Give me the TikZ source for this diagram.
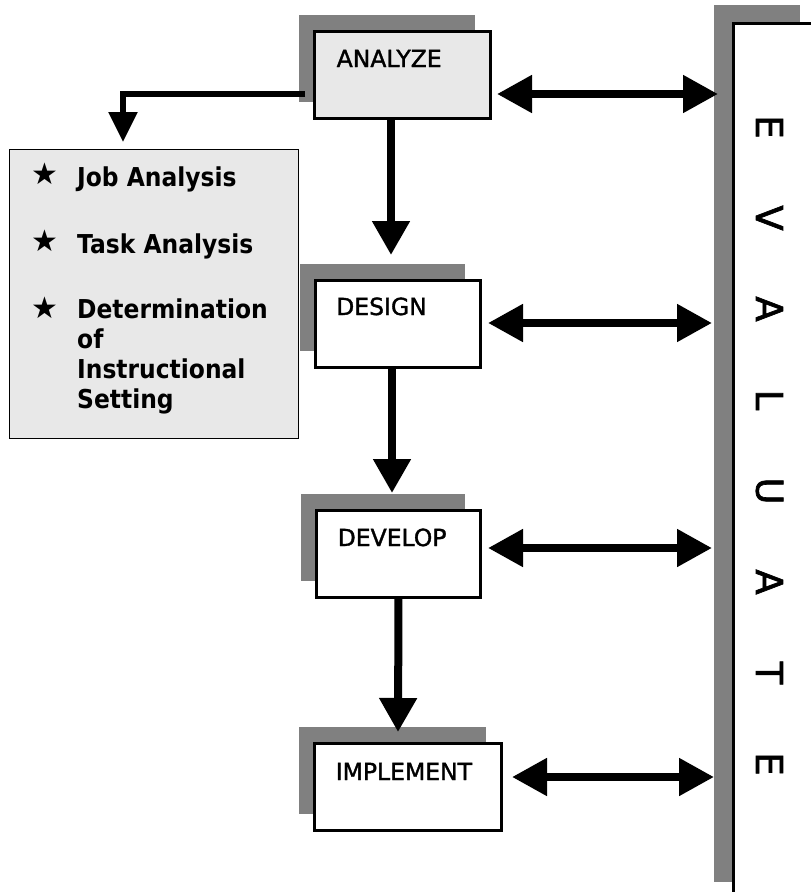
\documentclass[tikz,border=0pt]{standalone}
\usepackage{fontspec}
\setmainfont{DejaVu Sans}
\newfontfamily\listfont[FakeStretch=0.9]{DejaVu Sans}
\newfontfamily\labelfont[FakeBold=1.5]{DejaVu Sans}
\newfontfamily\letterfont[FakeBold=1.8]{DejaVu Sans}
\usetikzlibrary{arrows.meta,calc,shadows}
\definecolor{shgray}{HTML}{808080}
\definecolor{lightfill}{HTML}{E8E8E8}
\begin{document}
\begin{tikzpicture}[x=1pt,y=-1pt,
  stage/.style={draw=black, line width=3.5pt, fill=white, inner sep=0pt, outer sep=0pt,
    minimum height=87pt, anchor=north west,
    general shadow={fill=shgray, shadow xshift=-16pt, shadow yshift=17pt}},
  evalbox/.style={draw=black, line width=3.5pt, fill=white, inner sep=0pt, outer sep=0pt,
    anchor=north west,
    general shadow={fill=shgray, shadow xshift=-19.5pt, shadow yshift=18.5pt}},
  listbox/.style={draw=black, line width=1.5pt, fill=lightfill, inner sep=0pt, outer sep=0pt,
    anchor=north west},
  stagelabel/.style={font=\labelfont\fontsize{23.5}{28}\selectfont, inner sep=0pt, anchor=base west},
  itemtext/.style={font=\listfont\bfseries\fontsize{26}{30}\selectfont, inner sep=0pt,
    anchor=base west, align=left},
  itemstar/.style={font=\fontsize{30}{30}\selectfont, inner sep=0pt},
  evletter/.style={font=\letterfont\fontsize{37}{37}\selectfont, inner sep=0pt, rotate=-90},
  flow/.style={line width=8pt, -{Triangle[width=36pt,length=34pt]}},
  exchange/.style={line width=8pt, {Triangle[width=36pt,length=35pt]}-{Triangle[width=36pt,length=35pt]}},
  branch/.style={line width=5.5pt, -{Triangle[width=28pt,length=30pt]}}
]
\useasboundingbox (0,0) rectangle (811,892);
\clip (0,0) rectangle (811,892);

% evaluation column on the right
\node[evalbox, minimum width=86pt, minimum height=877pt] (evaluate) at (733.5,23.5) {};
\foreach \ch [count=\i] in {E,V,A,L,U,A,T,E}
  \node[evletter] (ev\i) at (769.5,{127+91*(\i-1)}) {\ch};

% the four phase boxes
\node[stage, fill=lightfill, minimum width=176pt] (analyze) at (314.5,31.5) {};
\node[stage, minimum width=165pt] (design) at (315.5,280.5) {};
\node[stage, minimum width=164pt] (develop) at (316.5,510.5) {};
\node[stage, minimum width=187pt] (implement) at (314.5,743.5) {};

\node[stagelabel] (analyzeT) at ($(analyze.north west)+(22,35.5)$) {ANALYZE};
\node[stagelabel] (designT) at ($(design.north west)+(20.5,34.5)$) {DESIGN};
\node[stagelabel] (developT) at ($(develop.north west)+(21,35.5)$) {DEVELOP};
\node[stagelabel] (implementT) at ($(implement.north west)+(21,36.5)$) {IMPLEMENT};

% analysis outputs
\node[listbox, minimum width=289pt, minimum height=289pt] (tasks) at (9.5,149.5) {};
\node[itemstar] (star1) at (45,174) {★};
\node[itemstar] (star2) at (45,241) {★};
\node[itemstar] (star3) at (45,308) {★};
\node[itemtext] (job) at (77,186) {Job Analysis};
\node[itemtext] (task) at (77,253) {Task Analysis};
% the base anchor of this node sits on its last line
\node[itemtext] (setting) at (77,408) {Determination\\of\\Instructional\\Setting};

% connectors
\draw[branch] ($(analyze.north west)+(-9.5,62.5)$) -| ($(tasks.north west)+(113.5,-7.5)$);
\draw[flow] ($(analyze.south)+(-11.5,0)$) -- ($(design.north)+(-7,-25.5)$);
\draw[flow] ($(design.south)+(-6,0)$) -- ($(develop.north)+(-6.5,-17.5)$);
\draw[flow] (develop.south) -- ($(implement.north)+(-10,-11.5)$);

\draw[exchange] ($(analyze.north east)+(6.5,62.5)$) -- ($(analyze.north east -| evaluate.west)+(-15.5,62.5)$);
\draw[exchange] ($(design.north east)+(7.5,42.5)$) -- ($(design.north east -| evaluate.west)+(-21.5,42.5)$);
\draw[exchange] ($(develop.north east)+(7.5,37.5)$) -- ($(develop.north east -| evaluate.west)+(-21.5,37.5)$);
\draw[exchange] ($(implement.north east)+(10.5,33.5)$) -- ($(implement.north east -| evaluate.west)+(-19.5,33.5)$);
\end{tikzpicture}
\end{document}
